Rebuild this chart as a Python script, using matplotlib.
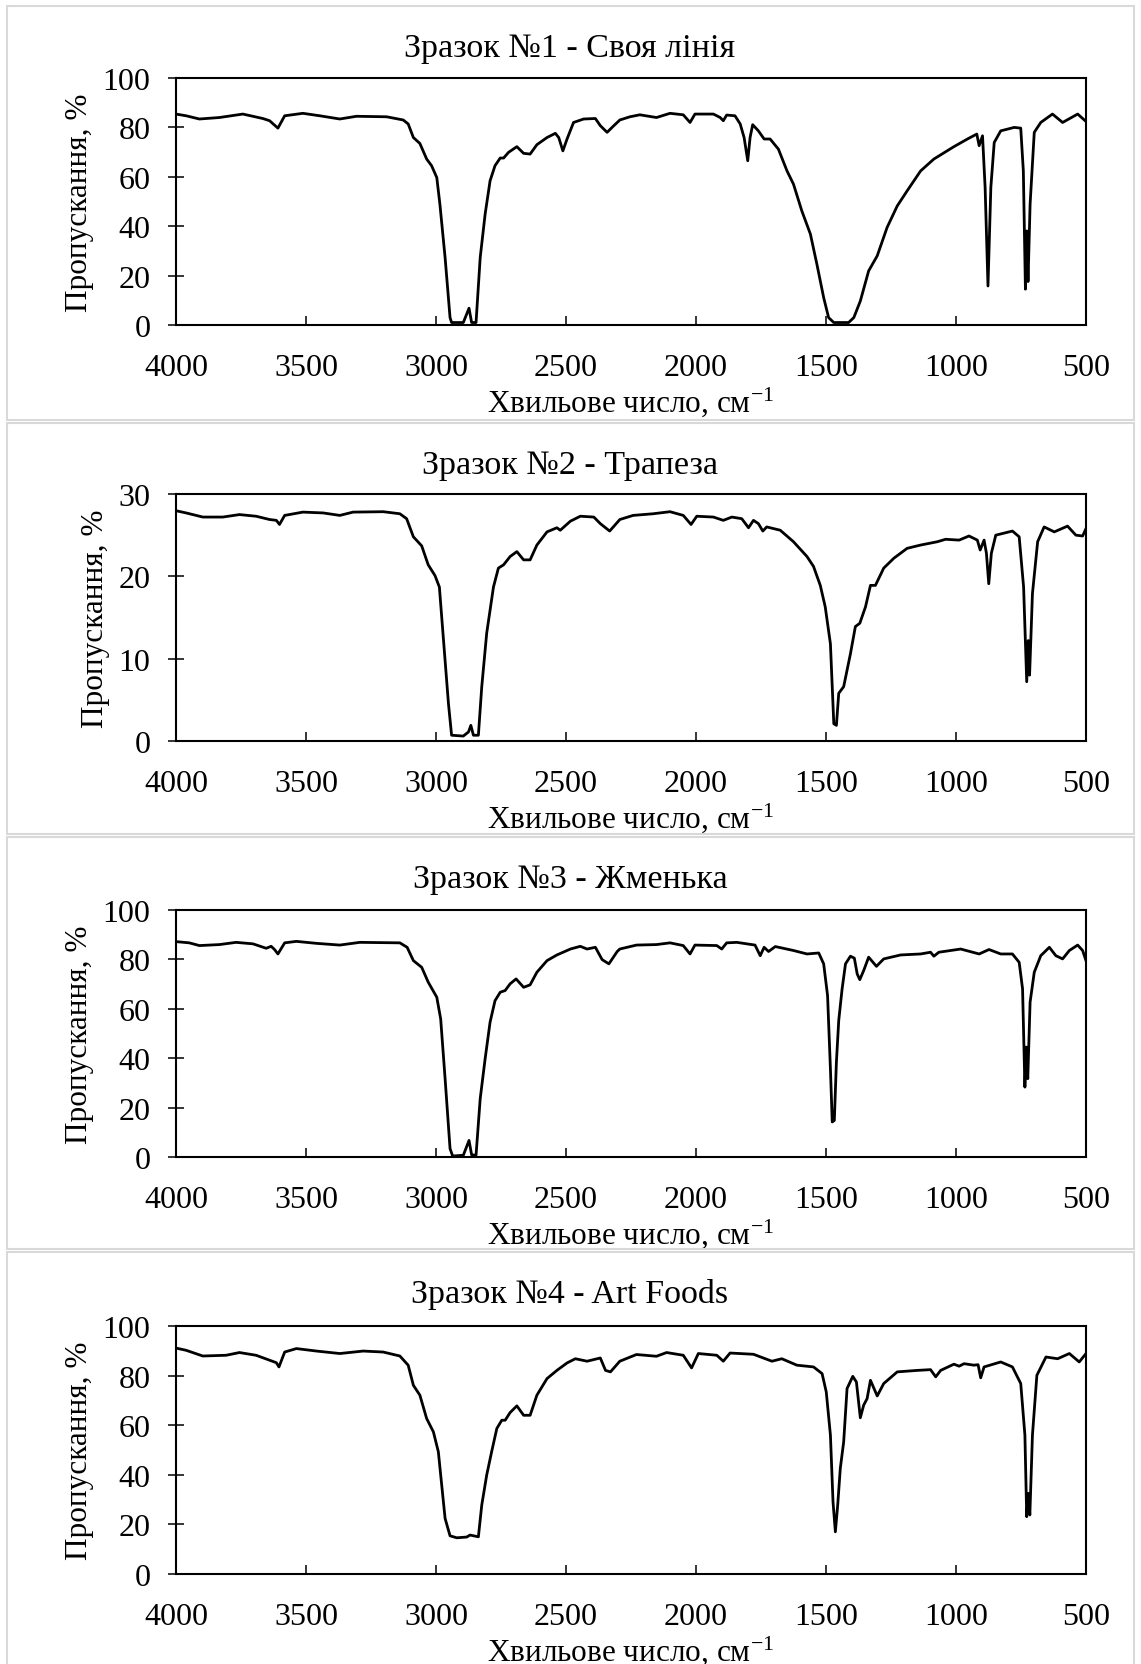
import matplotlib
matplotlib.use('Agg')
import matplotlib.pyplot as plt
from matplotlib.patches import Rectangle

plt.rcParams['font.family'] = ['Liberation Serif', 'DejaVu Serif']
plt.rcParams['mathtext.fontset'] = 'custom'
plt.rcParams['mathtext.rm'] = 'Liberation Serif'
plt.rcParams['mathtext.default'] = 'regular'

titles = ['Зразок №1 - Своя лінія', 'Зразок №2 - Трапеза',
          'Зразок №3 - Жменька', 'Зразок №4 - Art Foods']
xlabel = 'Хвильове число, см$^{-1}$'
ylabel = 'Пропускання, %'
x_ticks = [4000, 3500, 3000, 2500, 2000, 1500, 1000, 500]

# Зразок 1
wn1 = [4000, 3961, 3910, 3833, 3743, 3666, 3640, 3608, 3582, 3512,
       3447, 3370, 3306, 3190, 3126, 3107, 3087, 3062, 3036, 3017,
       2997, 2985, 2965, 2946, 2940, 2895, 2873, 2863, 2846, 2830,
       2811, 2792, 2773, 2753, 2740, 2721, 2689, 2663, 2638, 2612,
       2573, 2541, 2528, 2512, 2496, 2471, 2432, 2387, 2368, 2342,
       2316,
       2293, 2254, 2216, 2152, 2100, 2049, 2023, 2004, 1933, 1907,
       1895, 1882, 1850, 1830, 1815, 1801, 1792, 1782, 1760, 1738,
       1715, 1683, 1650, 1625, 1593, 1560, 1535, 1509, 1490, 1470,
       1413, 1393, 1368, 1336, 1303, 1265, 1226, 1188, 1136, 1085,
       1008, 956, 920, 911, 898, 888, 877, 866, 853, 828,
       776, 751, 741, 733, 728, 723, 715, 699, 674, 629,
       590, 532, 500]
tr1 = [85.4, 84.7, 83.4, 84.0, 85.4, 83.6, 82.7, 79.7, 84.7, 85.7,
       84.7, 83.4, 84.5, 84.3, 83.0, 81.4, 75.9, 73.5, 67.2, 64.5,
       59.7, 48.9, 27.3, 3.0, 1.0, 1.0, 6.8, 1.0, 1.0, 27.3,
       44.9, 58.4, 64.5, 67.6, 67.6, 69.9, 72.2, 69.5, 69.2, 73.0,
       75.9, 77.6, 75.9, 70.5, 75.3, 82.0, 83.4, 83.6, 80.7, 78.0,
       80.7,
       83.0, 84.3, 85.1, 84.0, 85.7, 85.1, 82.0, 85.4, 85.4, 84.0,
       82.7, 85.0, 84.7, 81.4, 75.9, 66.5, 75.9, 81.1, 78.6, 75.3,
       75.3, 71.2, 62.4, 57.0, 46.2, 36.8, 24.6, 11.1, 3.0, 1.0,
       1.0, 3.0, 9.7, 21.9, 28.0, 39.5, 48.2, 54.3, 62.4, 67.2,
       72.2, 75.3, 77.3, 72.6, 76.6, 55.7, 15.8, 55.7, 73.9, 78.6,
       80.0, 79.7, 62.4, 14.5, 38.1, 17.6, 48.9, 78.0, 82.0, 85.4,
       82.0, 85.4, 82.4]

# Зразок 2
wn2 = [4000, 3961, 3897, 3820, 3756, 3692, 3640, 3614, 3602, 3582,
       3512, 3434, 3370, 3319, 3203, 3139, 3113, 3087, 3055, 3030,
       3004, 2987, 2972, 2952, 2940, 2895, 2875, 2866, 2856, 2837,
       2824, 2805, 2779, 2760, 2740, 2715, 2689, 2663, 2638, 2612,
       2573, 2535, 2522, 2483, 2445, 2393, 2368, 2332,
       2293, 2242, 2165, 2100, 2049, 2019, 1997, 1933, 1895, 1862,
       1824, 1798, 1779, 1760, 1743, 1728, 1676, 1625, 1573, 1548,
       1522, 1503, 1483, 1470, 1460, 1451, 1432, 1406, 1387, 1370,
       1348, 1329, 1310, 1278, 1239, 1188, 1136, 1072, 1040, 988,
       950, 918, 907, 892, 883, 874, 864, 847, 783, 757,
       740, 728, 722, 717, 706, 686, 661, 622, 571, 539,
       513, 500]
tr2 = [27.97, 27.7, 27.2, 27.2, 27.5, 27.3, 26.9, 26.8, 26.3, 27.4,
       27.8, 27.7, 27.4, 27.8, 27.85, 27.6, 27.0, 24.8, 23.7, 21.4,
       20.1, 18.7, 12.6, 4.5, 0.7, 0.6, 1.1, 1.9, 0.7, 0.7,
       6.6, 13.1, 18.7, 21.0, 21.4, 22.4, 23.0, 22.0, 22.0, 23.8,
       25.4, 25.9, 25.6, 26.7, 27.3, 27.2, 26.4, 25.5,
       26.9, 27.4, 27.6, 27.85, 27.4, 26.3, 27.3, 27.2, 26.8, 27.2,
       27.0, 25.9, 26.8, 26.4, 25.5, 26.0, 25.6, 24.2, 22.4, 21.2,
       18.9, 16.3, 11.8, 2.1, 1.9, 5.8, 6.6, 10.6, 13.9, 14.3,
       16.3, 18.9, 18.9, 21.0, 22.2, 23.4, 23.8, 24.2, 24.5, 24.4,
       24.9, 24.4, 23.2, 24.4, 22.8, 19.1, 22.8, 25.0, 25.5, 24.8,
       18.7, 7.2, 12.2, 8.0, 17.9, 24.2, 26.0, 25.4, 26.1, 25.0,
       24.9, 25.8]

# Зразок 3
wn3 = [4000, 3949, 3910, 3833, 3769, 3704, 3653, 3634, 3621, 3608,
       3582, 3537, 3460, 3370, 3293, 3139, 3111, 3087, 3055, 3030,
       2997, 2982, 2965, 2946, 2936, 2895, 2873, 2863, 2846, 2830,
       2811, 2792, 2773, 2753, 2734, 2715, 2692, 2663, 2638, 2612,
       2573, 2535, 2483, 2445, 2419, 2387, 2361, 2335, 2303,
       2293, 2229, 2152, 2100, 2049, 2023, 2004, 1920, 1901, 1882,
       1843, 1773, 1753, 1738, 1721, 1695, 1625, 1573, 1528, 1509,
       1494, 1483, 1476, 1468, 1460, 1451, 1438, 1425, 1406, 1391,
       1380, 1370, 1355, 1336, 1306, 1278, 1213, 1136, 1098, 1085,
       1066, 982, 911, 873, 828, 783, 757, 744, 735, 730,
       724, 715, 699, 674, 641, 616, 590, 564, 532, 513,
       500]
tr3 = [87.2, 86.7, 85.6, 86.0, 86.9, 86.3, 84.5, 85.3, 84.0, 82.2,
       86.7, 87.3, 86.5, 85.8, 86.9, 86.7, 84.9, 79.5, 76.8, 70.8,
       64.7, 55.9, 31.7, 3.4, 0.4, 0.7, 6.7, 0.9, 0.7, 23.6,
       39.8, 54.6, 63.3, 66.7, 67.4, 70.1, 72.1, 68.7, 69.7, 74.8,
       79.5, 81.8, 84.2, 85.3, 84.2, 84.9, 79.9, 78.2, 83.2,
       84.2, 85.8, 86.0, 86.7, 85.6, 82.2, 85.8, 85.6, 84.2, 86.7,
       86.9, 85.8, 81.5, 84.9, 83.2, 85.2, 83.6, 82.2, 82.6, 78.2,
       65.4, 35.7, 14.2, 14.8, 38.4, 55.3, 68.1, 78.2, 81.3, 80.5,
       74.1, 71.8, 75.5, 80.9, 77.2, 80.2, 81.8, 82.2, 82.9, 81.3,
       82.9, 84.2, 82.2, 84.0, 82.2, 82.2, 78.8, 68.1, 28.3, 44.5,
       31.7, 62.7, 74.8, 81.5, 84.9, 81.5, 80.2, 83.6, 85.8, 83.6,
       79.5]

# Зразок 4
wn4 = [4000, 3961, 3897, 3807, 3756, 3692, 3640, 3614, 3604, 3582,
       3537, 3460, 3370, 3280, 3203, 3139, 3107, 3087, 3062, 3036,
       3010, 2991, 2978, 2965, 2946, 2920, 2882, 2869, 2837, 2824,
       2805, 2786, 2766, 2747, 2734, 2715, 2689, 2663, 2638, 2612,
       2573, 2535, 2496, 2464, 2419, 2368, 2348, 2329,
       2293, 2229, 2152, 2113, 2049, 2017, 1991, 1920, 1895, 1869,
       1779, 1708, 1670, 1612, 1548, 1515, 1499, 1483, 1473, 1464,
       1455, 1445, 1432, 1419, 1397, 1383, 1368, 1355, 1342, 1329,
       1303, 1278, 1226, 1149, 1098, 1078, 1059, 1008, 988, 969,
       931, 915, 905, 892, 828, 783, 751, 735, 728, 722,
       716, 706, 689, 654, 609, 564, 526, 500]
tr4 = [91.1, 90.2, 87.9, 88.2, 89.3, 88.2, 86.2, 85.2, 83.5, 89.5,
       90.9, 89.9, 88.9, 89.9, 89.5, 87.9, 84.2, 76.1, 72.1, 62.7,
       57.3, 49.3, 35.8, 22.4, 15.4, 14.6, 14.9, 15.7, 15.0, 27.8,
       39.9, 49.3, 58.7, 62.0, 62.0, 65.1, 67.8, 64.0, 64.0, 72.1,
       78.8, 82.1, 85.1, 86.8, 85.8, 87.1, 82.1, 81.5,
       85.8, 88.5, 87.8, 89.3, 88.2, 83.1, 88.9, 88.2, 85.8, 89.1,
       88.6, 85.8, 86.8, 84.2, 83.5, 80.8, 73.4, 56.0, 29.1, 17.0,
       27.8, 42.6, 53.3, 74.8, 79.7, 77.4, 63.0, 68.1, 70.7, 78.1,
       71.8, 76.8, 81.5, 82.1, 82.4, 79.5, 82.1, 84.6, 83.8, 84.8,
       84.2, 84.4, 79.1, 83.5, 85.5, 83.5, 76.8, 56.0, 23.1, 32.5,
       23.8, 56.0, 80.1, 87.5, 86.8, 88.9, 85.5, 88.9]

spectra = [(wn1, tr1), (wn2, tr2), (wn3, tr3), (wn4, tr4)]
y_limits = [(0, 100, 20), (0, 30, 10), (0, 100, 20), (0, 100, 20)]

W, H = 1141, 1665
fig = plt.figure(figsize=(W / 100, H / 100), dpi=100)

# pixel layout of each chart block
frames = [(7, 421), (424, 835), (838, 1250), (1253, 1668)]
axes_px = [(79, 326), (495, 742), (911, 1158), (1327, 1575)]
ax_left, ax_right = 176, 1086

for i in range(4):
    ftop, fbot = frames[i]
    fig.patches.append(Rectangle((7 / W, 1 - fbot / H), (1134 - 7) / W, (fbot - ftop) / H,
                                 transform=fig.transFigure, fill=False,
                                 edgecolor='#d9d9d9', linewidth=1.5))
    atop, abot = axes_px[i]
    ax = fig.add_axes([ax_left / W, 1 - abot / H, (ax_right - ax_left) / W, (abot - atop) / H])
    wn, tr = spectra[i]
    ax.plot(wn, tr, color='black', linewidth=2.0)

    ax.set_xlim(4000, 500)
    ax.set_xticks(x_ticks)
    ymin, ymax, ystep = y_limits[i]
    ax.set_ylim(ymin, ymax)
    ax.set_yticks(range(ymin, ymax + 1, ystep))

    for s in ax.spines.values():
        s.set_linewidth(1.5)
    ax.tick_params(axis='x', direction='in', length=6.5, width=1.1, pad=20, labelsize=23)
    ax.tick_params(axis='y', direction='inout', length=11, width=1.1, pad=13, labelsize=23)

    ax.set_xlabel(xlabel, fontsize=22.5, labelpad=2)
    ax.set_ylabel(ylabel, fontsize=22.5, labelpad=6)
    fig.text(570 / W, 1 - (ftop + 50) / H, titles[i], ha='center', va='baseline', fontsize=24.5)

fig.savefig('out.png', dpi=100)
